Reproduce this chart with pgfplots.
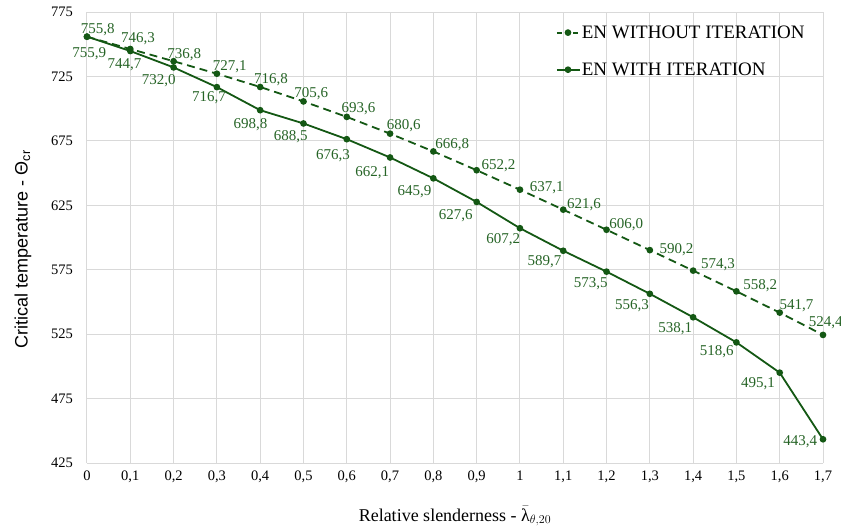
\documentclass[border=0pt]{standalone}
\usepackage{fontspec}
\setmainfont{Liberation Serif}
\newfontfamily\sansfont{Liberation Sans}
\usepackage{pgfplots}
\usepackage{pgfplotstable}
\pgfplotsset{compat=1.18}
\definecolor{lineg}{RGB}{20,88,20}
\definecolor{labg}{RGB}{38,100,38}
\definecolor{gridg}{RGB}{217,217,217}

\pgfplotstableread{
x y dx dy
0 755.8 -7 3
0.1 746.3 -10 6
0.2 736.8 -7 3
0.3 727.1 -5 3
0.4 716.8 -7 3
0.5 705.6 -10 4
0.6 693.6 -6 4
0.7 680.6 -4 4
0.8 666.8 1 3
0.9 652.2 4 1
1.0 637.1 9 -2
1.1 621.6 3 1
1.2 606.0 2 1
1.3 590.2 9 -3
1.4 574.3 7 2
1.5 558.2 6 2
1.6 541.7 -1 3
1.7 524.4 -15 8
}\withoutit

\pgfplotstableread{
x y dx dy
0 755.9 20 -10
0.1 744.7 12 -7
0.2 732.0 3 -6
0.3 716.7 10 -4
0.4 698.8 8 -7
0.5 688.5 5 -6
0.6 676.3 4 -9
0.7 662.1 0 -8
0.8 645.9 -1 -6
0.9 627.6 -3 -7
1.0 607.2 1 -4
1.1 589.7 -1 -4
1.2 573.5 2 -5
1.3 556.3 0 -5
1.4 538.1 0 -4
1.5 518.6 -2 -2
1.6 495.1 -4 -4
1.7 443.4 -5 5
}\withit

\begin{document}
\begin{tikzpicture}
\begin{axis}[
  at={(0pt,0pt)}, anchor=south west,
  scale only axis, width=736pt, height=451pt,
  xmin=0, xmax=1.7, ymin=425, ymax=775,
  clip=false,
  xtick={0,0.1,0.2,0.3,0.4,0.5,0.6,0.7,0.8,0.9,1,1.1,1.2,1.3,1.4,1.5,1.6,1.7},
  xticklabels={0,{0,1},{0,2},{0,3},{0,4},{0,5},{0,6},{0,7},{0,8},{0,9},1,{1,1},{1,2},{1,3},{1,4},{1,5},{1,6},{1,7}},
  ytick={425,475,525,575,625,675,725,775},
  grid=major,
  major grid style={gridg, line width=1pt},
  axis line style={draw=none},
  major tick length=0pt,
  /pgf/number format/assume math mode=true,
  tick label style={font=\fontsize{14.5}{17}\selectfont, text=black},
  yticklabel style={anchor=east, inner sep=0pt, xshift=-14pt},
  xticklabel style={anchor=north, inner sep=0pt, yshift=-8pt},
  xlabel={Relative slenderness - $\bar{\mbox{λ}}_{\theta,20}$},
  ylabel={\sansfont Critical temperature - Θ\textsubscript{cr}},
  every axis x label/.style={at={(axis description cs:0.5,0)}, anchor=base, yshift=-58pt, font=\fontsize{18}{22}\selectfont},
  every axis y label/.style={at={(axis description cs:-0.087,0.474)}, rotate=90, anchor=center, font=\fontsize{18}{21}\selectfont},
  legend cell align=left,
  legend style={at={(axis description cs:0.633,0.977)}, anchor=north west, draw=none, fill=none,
    font=\fontsize{19}{22}\selectfont, row sep=21pt,
    nodes={inner sep=1pt}},
  legend image code/.code={\draw[mark repeat=2,mark phase=2,#1] plot coordinates {(0pt,0pt) (11pt,0pt) (23pt,0pt)};},
  nodes near coords={\pgfmathprintnumber[fixed,fixed zerofill,precision=1,use comma]{\pgfplotspointmeta}},
  point meta=y,
  visualization depends on={\thisrow{dx} \as \mydx},
  visualization depends on={\thisrow{dy} \as \mydy},
]
\addplot[lineg, line width=1.8pt, dash pattern=on 8pt off 5pt, mark=*, mark size=2.4pt,
  mark options={solid},
  legend image post style={dash pattern=on 5pt off 3pt},
  every node near coord/.append style={anchor=base west, inner sep=0pt, text=labg, font=\fontsize{15}{17}\selectfont, xshift=\mydx pt, yshift=\mydy pt}]
  table[x=x, y=y] {\withoutit};
\addlegendentry{EN WITHOUT ITERATION}
\addplot[lineg, line width=1.8pt, mark=*, mark size=2.4pt,
  every node near coord/.append style={anchor=north east, inner sep=0pt, text=labg, font=\fontsize{15}{17}\selectfont, xshift=\mydx pt, yshift=\mydy pt}]
  table[x=x, y=y] {\withit};
\addlegendentry{EN WITH ITERATION}
\end{axis}
\pgfresetboundingbox
\path (-87pt,-67pt) rectangle (754pt,463pt);
\end{tikzpicture}
\end{document}
